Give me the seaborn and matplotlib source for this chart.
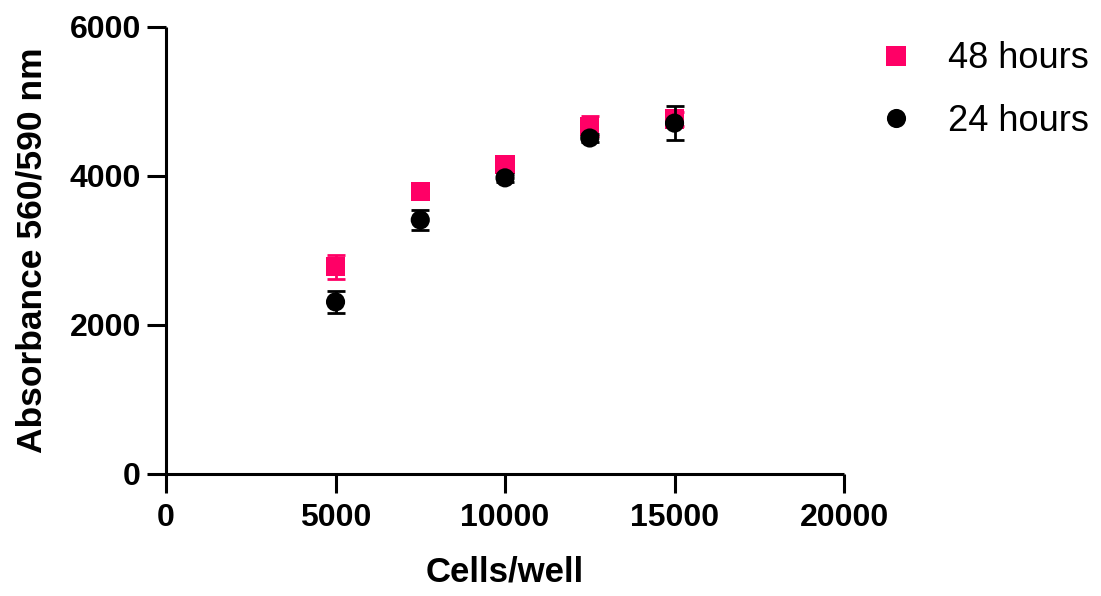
import numpy as np
import pandas as pd
import matplotlib
matplotlib.use("Agg")
import matplotlib.pyplot as plt
import seaborn as sns

cells = [5000, 7500, 10000, 12500, 15000]
abs_48 = [2780, 3790, 4150, 4670, 4765]
err_48 = [160, 60, 70, 130, 100]
abs_24 = [2310, 3410, 3975, 4510, 4710]
err_24 = [145, 130, 50, 50, 230]
labels = ['48 hours', '24 hours']
pink = '#FF0066'

sns.set_style('ticks')
plt.rcParams['font.family'] = ['Liberation Sans', 'DejaVu Sans']
plt.rcParams.update({'text.color': 'black', 'axes.labelcolor': 'black',
                     'xtick.color': 'black', 'ytick.color': 'black',
                     'axes.edgecolor': 'black'})

df = pd.DataFrame({
    'Cells': cells + cells,
    'Absorbance': abs_48 + abs_24,
    'Time': [labels[0]] * len(cells) + [labels[1]] * len(cells),
})

fig = plt.figure(figsize=(11.01, 5.96), dpi=100)
ax = fig.add_axes([0.1508, 0.2047, 0.6158, 0.75])

ax.errorbar(cells, abs_48, yerr=err_48, fmt='none', ecolor=pink,
            elinewidth=2, capsize=6.8, capthick=2, zorder=1)
sns.scatterplot(data=df, x='Cells', y='Absorbance', hue='Time', style='Time',
                hue_order=labels, style_order=labels,
                palette={labels[0]: pink, labels[1]: 'black'},
                markers={labels[0]: 's', labels[1]: 'o'},
                s=190, linewidth=0, ax=ax, zorder=2)
ax.errorbar(cells, abs_24, yerr=err_24, fmt='none', ecolor='black',
            elinewidth=2, capsize=6.8, capthick=2, zorder=3)

ax.set_xlim(0, 20000)
ax.set_ylim(0, 6000)
ax.set_xticks([0, 5000, 10000, 15000, 20000])
ax.set_yticks([0, 2000, 4000, 6000])
ax.set_xlabel('Cells/well', fontsize=25, fontweight='bold', labelpad=16)
ax.set_ylabel('Absorbance 560/590 nm', fontsize=25.5, fontweight='bold', labelpad=15)
ax.tick_params(axis='both', width=2.2, length=14, labelsize=23)
ax.tick_params(axis='x', pad=7)
ax.tick_params(axis='y', pad=4)
for lab in ax.get_xticklabels() + ax.get_yticklabels():
    lab.set_fontweight('bold')
sns.despine(ax=ax)
for sp in ['left', 'bottom']:
    ax.spines[sp].set_linewidth(2.2)
    ax.spines[sp].set_capstyle('butt')

h, l = ax.get_legend_handles_labels()
ax.legend(h, l, loc='upper left', bbox_to_anchor=(0.768, 0.985),
          bbox_transform=fig.transFigure, frameon=False, fontsize=26,
          handlelength=1, handletextpad=0.95, labelspacing=0.75, markerscale=1.0)

fig.savefig('out.png', dpi=100)
